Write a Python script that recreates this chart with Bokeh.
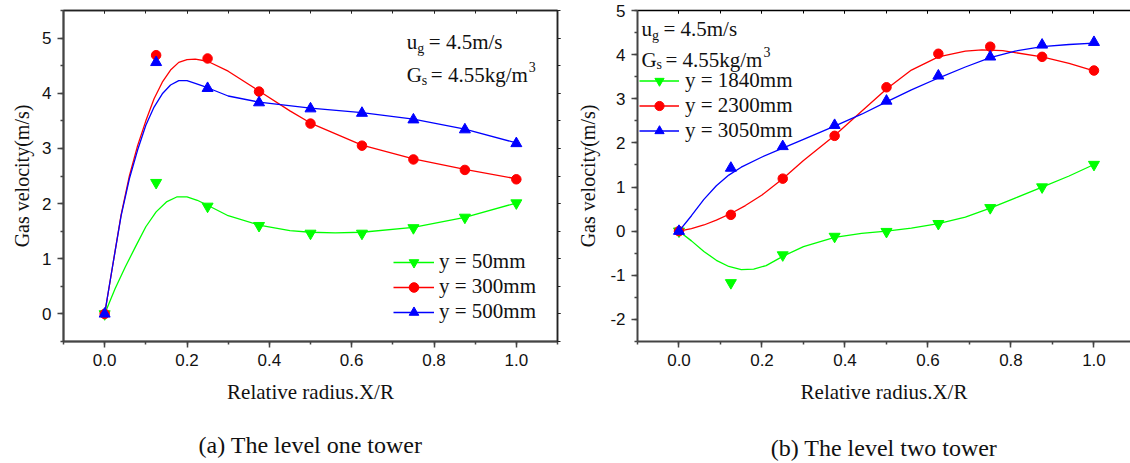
from bokeh.plotting import figure
from bokeh.models import (Range1d, LinearAxis, SingleIntervalTicker, FixedTicker,
                          PrintfTickFormatter, CustomJSTickFormatter, Label)
from bokeh.layouts import row
from bokeh.embed import file_html
from bokeh.resources import INLINE

# ---------------- data ----------------
x_pos = [0.0, 0.125, 0.25, 0.375, 0.5, 0.625, 0.75, 0.875, 1.0]

# (a) level one tower - measured points
a_y50 = [0.0, 2.38, 1.95, 1.60, 1.46, 1.46, 1.56, 1.75, 2.01]
a_y300 = [0.0, 4.69, 4.63, 4.03, 3.45, 3.05, 2.80, 2.61, 2.44]
a_y500 = [0.0, 4.56, 4.09, 3.83, 3.72, 3.64, 3.52, 3.34, 3.09]

# (a) smooth curves
a_c50_x = [0, 0.025, 0.05, 0.075, 0.1, 0.125, 0.15, 0.175, 0.2, 0.225, 0.25, 0.3, 0.375, 0.45, 0.5, 0.56, 0.625, 0.75, 0.875, 1.0]
a_c50_y = [0, 0.45, 0.85, 1.22, 1.58, 1.85, 2.03, 2.12, 2.12, 2.06, 1.97, 1.78, 1.61, 1.51, 1.48, 1.47, 1.48, 1.57, 1.75, 2.01]
a_c300_x = [0, 0.02, 0.04, 0.06, 0.08, 0.1, 0.12, 0.14, 0.16, 0.18, 0.2, 0.22, 0.25, 0.3, 0.375, 0.45, 0.5, 0.625, 0.75, 0.875, 1.0]
a_c300_y = [0, 0.9, 1.8, 2.5, 3.05, 3.5, 3.9, 4.2, 4.42, 4.56, 4.61, 4.62, 4.58, 4.40, 4.04, 3.68, 3.46, 3.06, 2.81, 2.62, 2.45]
a_c500_x = [0, 0.02, 0.04, 0.06, 0.08, 0.1, 0.12, 0.14, 0.16, 0.18, 0.2, 0.22, 0.25, 0.3, 0.375, 0.5, 0.625, 0.75, 0.875, 1.0]
a_c500_y = [0, 0.9, 1.78, 2.45, 2.97, 3.42, 3.75, 3.99, 4.15, 4.23, 4.23, 4.18, 4.10, 3.95, 3.84, 3.73, 3.65, 3.53, 3.35, 3.10]

# (b) level two tower - measured points
b_y1840 = [0.0, -1.17, -0.54, -0.12, -0.01, 0.17, 0.53, 1.00, 1.51]
b_y2300 = [0.0, 0.37, 1.19, 2.16, 3.26, 4.02, 4.18, 3.95, 3.64]
b_y3050 = [0.0, 1.43, 1.92, 2.40, 2.95, 3.52, 3.95, 4.22, 4.28]

# (b) smooth curves
b_c1840_x = [0, 0.03, 0.06, 0.09, 0.12, 0.15, 0.18, 0.21, 0.25, 0.3, 0.375, 0.44, 0.5, 0.56, 0.625, 0.69, 0.75, 0.81, 0.875, 0.94, 1.0]
b_c1840_y = [0, -0.22, -0.46, -0.66, -0.80, -0.87, -0.86, -0.78, -0.57, -0.35, -0.14, -0.05, 0.0, 0.07, 0.17, 0.32, 0.52, 0.75, 1.0, 1.25, 1.51]
b_c2300_x = [0, 0.03, 0.06, 0.09, 0.125, 0.16, 0.2, 0.25, 0.3, 0.375, 0.43, 0.5, 0.56, 0.625, 0.69, 0.73, 0.78, 0.875, 0.94, 1.0]
b_c2300_y = [0, 0.06, 0.14, 0.25, 0.40, 0.58, 0.82, 1.19, 1.60, 2.17, 2.63, 3.22, 3.65, 3.95, 4.08, 4.11, 4.09, 3.95, 3.80, 3.63]
b_c3050_x = [0, 0.03, 0.06, 0.09, 0.12, 0.15, 0.2, 0.25, 0.3, 0.375, 0.44, 0.5, 0.56, 0.625, 0.69, 0.75, 0.81, 0.875, 0.94, 1.0]
b_c3050_y = [0, 0.35, 0.72, 1.03, 1.27, 1.45, 1.68, 1.88, 2.08, 2.38, 2.65, 2.93, 3.20, 3.47, 3.72, 3.93, 4.08, 4.18, 4.23, 4.26]

labels_a = ["y = 50mm", "y = 300mm", "y = 500mm"]
labels_b = ["y = 1840mm", "y = 2300mm", "y = 3050mm"]
x_title = "Relative radius.X/R"
y_title = "Gas velocity(m/s)"
caption_a = "(a) The level one tower"
caption_b = "(b) The level two tower"

GREEN, RED, BLUE = "#00FF00", "#FF0000", "#0000FF"
SERIF = "Liberation Serif"
SANS = "Liberation Sans"
AX = "#444444"
TXT = "#111111"


def style_axis(ax):
    ax.axis_line_color = AX
    ax.axis_line_width = 2
    ax.major_tick_line_color = AX
    ax.major_tick_line_width = 1.5
    ax.minor_tick_line_color = AX
    ax.minor_tick_line_width = 1.5
    ax.major_tick_out = 6
    ax.major_tick_in = 0
    ax.minor_tick_out = 3
    ax.minor_tick_in = 0
    ax.major_label_text_font = SANS
    ax.major_label_text_font_size = "17px"
    ax.major_label_text_color = TXT
    ax.major_label_standoff = 6
    ax.axis_label_text_font = SERIF
    ax.axis_label_text_font_style = "normal"
    ax.axis_label_text_font_size = "21px"
    ax.axis_label_text_color = TXT


def plain_axis(ticker, color, tick_in, tick_out):
    ax = LinearAxis(ticker=ticker, formatter=CustomJSTickFormatter(code="return ''"))
    ax.major_label_text_color = None
    ax.major_label_text_font_size = "0px"
    ax.major_label_standoff = 0
    ax.axis_line_color = color
    ax.axis_line_width = 1.5
    ax.major_tick_line_color = color
    ax.minor_tick_line_color = color
    ax.major_tick_in = tick_in
    ax.major_tick_out = tick_out
    ax.minor_tick_in = tick_in
    ax.minor_tick_out = tick_out
    return ax


def caption_axis(text, standoff):
    ax = LinearAxis(ticker=FixedTicker(ticks=[]), axis_label=text)
    ax.axis_line_color = None
    ax.major_tick_out = 0
    ax.major_tick_in = 0
    ax.minor_tick_out = 0
    ax.minor_tick_in = 0
    ax.major_label_standoff = 0
    ax.major_label_text_font_size = "0px"
    ax.axis_label_standoff = standoff
    ax.axis_label_text_font = SERIF
    ax.axis_label_text_font_style = "normal"
    ax.axis_label_text_font_size = "24px"
    ax.axis_label_text_line_height = 1.0
    ax.axis_label_text_color = TXT
    return ax


def make_panel(width, xr, yr, borders, series, legend_loc, legend_cfg, ytitle_standoff):
    p = figure(width=width, height=463, x_range=Range1d(*xr), y_range=Range1d(*yr),
               output_backend="svg", toolbar_location=None,
               min_border_left=borders[0], min_border_right=borders[1],
               min_border_top=borders[2], min_border_bottom=0)
    p.grid.visible = False
    p.background_fill_color = "white"
    p.border_fill_color = "white"
    xt = SingleIntervalTicker(interval=0.2, num_minor_ticks=2)
    yt = SingleIntervalTicker(interval=1, num_minor_ticks=2)
    p.xaxis.ticker = xt
    p.yaxis.ticker = yt
    p.xaxis.formatter = PrintfTickFormatter(format="%.1f")
    p.yaxis.formatter = PrintfTickFormatter(format="%d")
    p.xaxis.axis_label = x_title
    p.yaxis.axis_label = y_title
    style_axis(p.xaxis[0])
    style_axis(p.yaxis[0])
    p.yaxis.axis_label_text_font_size = "20px"
    p.xaxis.axis_label_standoff = 11
    p.yaxis.axis_label_standoff = ytitle_standoff

    for (cx, cy, px, py, color, marker, size, label) in series:
        p.line(cx, cy, line_color=color, line_width=1.3, legend_label=label)
        p.scatter(px, py, marker=marker, size=size, fill_color=color, line_color=color,
                  legend_label=label)

    lg = p.legend[0]
    lg.location = legend_loc
    lg.border_line_color = None
    lg.background_fill_alpha = 0
    lg.padding = 0
    lg.margin = 0
    lg.spacing = 0
    lg.label_text_font = SERIF
    lg.label_text_font_size = "21px"
    lg.label_text_color = TXT
    lg.glyph_width = legend_cfg[0]
    lg.glyph_height = legend_cfg[1]
    lg.label_height = legend_cfg[1]
    lg.label_standoff = legend_cfg[2]
    return p, xt, yt


def add_params(p, x, y1, y2):
    kw = dict(text_font=SERIF, text_color=TXT, text_baseline="alphabetic")
    p.add_layout(Label(x=x, y=y1, text="u", text_font_size="21px", **kw))
    p.add_layout(Label(x=x, y=y1, x_offset=10.5, y_offset=-6, text="g", text_font_size="14px", **kw))
    p.add_layout(Label(x=x, y=y1, x_offset=22, text="= 4.5m/s", text_font_size="21px", **kw))
    p.add_layout(Label(x=x, y=y2, text="G", text_font_size="21px", **kw))
    p.add_layout(Label(x=x, y=y2, x_offset=15, y_offset=-5, text="s", text_font_size="14px", **kw))
    p.add_layout(Label(x=x, y=y2, x_offset=24, text="= 4.55kg/m", text_font_size="21px", **kw))
    p.add_layout(Label(x=x, y=y2, x_offset=122, y_offset=8, text="3", text_font_size="14px", **kw))


# ---------------- panel (a) ----------------
series_a = [
    (a_c50_x, a_c50_y, x_pos, a_y50, GREEN, "inverted_triangle", 11, labels_a[0]),
    (a_c300_x, a_c300_y, x_pos, a_y300, RED, "circle", 9.5, labels_a[1]),
    (a_c500_x, a_c500_y, x_pos, a_y500, BLUE, "triangle", 11, labels_a[2]),
]
pa, xta, yta = make_panel(565, (-0.1, 1.1), (-0.5, 5.5), (63, 8, 9), series_a,
                          (330, 17), (41, 24, 5), 6)
pa.outline_line_color = "#222222"
pa.outline_line_width = 1.5
pa.add_layout(plain_axis(xta, "#222222", 3, 0), "above")
pa.add_layout(plain_axis(yta, "#222222", 0, 3), "right")
pa.add_layout(caption_axis(caption_a, 25), "below")
add_params(pa, 0.734, 4.92, 4.33)

# ---------------- panel (b) ----------------
series_b = [
    (b_c1840_x, b_c1840_y, x_pos, b_y1840, GREEN, "inverted_triangle", 11, labels_b[0]),
    (b_c2300_x, b_c2300_y, x_pos, b_y2300, RED, "circle", 9.5, labels_b[1]),
    (b_c3050_x, b_c3050_y, x_pos, b_y3050, BLUE, "triangle", 11, labels_b[2]),
]
pb, xtb, ytb = make_panel(565, (-0.1, 1.088), (-2.5, 5.0), (72, 0, 10), series_b,
                          (2, 198), (40, 23, 6), 8)
pb.outline_line_color = None
pb.add_layout(plain_axis(xtb, "#000000", 3, 0), "above")
pb.add_layout(caption_axis(caption_b, 28), "below")
add_params(pb, -0.0905, 4.58, 3.88)

layout = row(pa, pb)
open("out.html", "w").write(file_html(layout, INLINE))
